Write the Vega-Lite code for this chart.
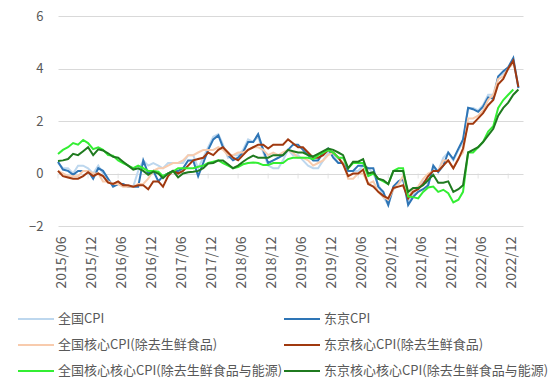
{
  "$schema": "https://vega.github.io/schema/vega-lite/v6.json",
  "width": 465,
  "height": 210,
  "autosize": {"type": "none"},
  "padding": {"left": 58, "top": 16, "right": 27, "bottom": 166},
  "background": "white",
  "config": {
    "view": {"stroke": null},
    "font": "Noto Sans CJK SC"
  },
  "datasets": {
    "series": [
      {"k": "a", "name": "全国CPI"},
      {"k": "b", "name": "东京CPI"},
      {"k": "c", "name": "全国核心CPI(除去生鲜食品)"},
      {"k": "d", "name": "东京核心CPI(除去生鲜食品)"},
      {"k": "e", "name": "全国核心核心CPI(除去生鲜食品与能源)"},
      {"k": "f", "name": "东京核心核心CPI(除去生鲜食品与能源)"}
    ],
    "cpi": [
      {"t": "2015-06", "a": 0.4, "b": 0.45, "c": 0.1, "d": 0.1, "e": 0.74, "f": 0.48},
      {"t": "2015-07", "a": 0.2, "b": 0.15, "c": 0.0, "d": -0.1, "e": 0.9, "f": 0.5},
      {"t": "2015-08", "a": 0.2, "b": 0.1, "c": -0.1, "d": -0.15, "e": 1.0, "f": 0.55},
      {"t": "2015-09", "a": 0.0, "b": -0.05, "c": -0.1, "d": -0.2, "e": 1.16, "f": 0.75},
      {"t": "2015-10", "a": 0.3, "b": 0.1, "c": -0.1, "d": -0.2, "e": 1.1, "f": 0.7},
      {"t": "2015-11", "a": 0.3, "b": 0.1, "c": 0.1, "d": -0.1, "e": 1.28, "f": 0.85},
      {"t": "2015-12", "a": 0.2, "b": 0.1, "c": 0.1, "d": 0.05, "e": 1.16, "f": 1.0},
      {"t": "2016-01", "a": 0.0, "b": -0.2, "c": 0.0, "d": -0.1, "e": 0.93, "f": 0.7},
      {"t": "2016-02", "a": 0.3, "b": 0.2, "c": 0.0, "d": 0.0, "e": 1.0, "f": 0.92},
      {"t": "2016-03", "a": 0.0, "b": 0.1, "c": -0.3, "d": -0.1, "e": 0.9, "f": 0.88},
      {"t": "2016-04", "a": -0.3, "b": -0.2, "c": -0.3, "d": -0.35, "e": 0.7, "f": 0.77},
      {"t": "2016-05", "a": -0.4, "b": -0.5, "c": -0.4, "d": -0.4, "e": 0.68, "f": 0.64},
      {"t": "2016-06", "a": -0.4, "b": -0.4, "c": -0.4, "d": -0.3, "e": 0.5, "f": 0.6},
      {"t": "2016-07", "a": -0.4, "b": -0.4, "c": -0.5, "d": -0.45, "e": 0.4, "f": 0.45},
      {"t": "2016-08", "a": -0.5, "b": -0.5, "c": -0.5, "d": -0.45, "e": 0.3, "f": 0.3},
      {"t": "2016-09", "a": -0.5, "b": -0.5, "c": -0.5, "d": -0.5, "e": 0.2, "f": 0.15},
      {"t": "2016-10", "a": 0.1, "b": -0.5, "c": -0.4, "d": -0.45, "e": 0.3, "f": 0.2},
      {"t": "2016-11", "a": 0.5, "b": 0.5, "c": -0.4, "d": -0.45, "e": 0.2, "f": 0.1},
      {"t": "2016-12", "a": 0.3, "b": 0.0, "c": -0.2, "d": -0.6, "e": 0.1, "f": -0.05},
      {"t": "2017-01", "a": 0.4, "b": 0.1, "c": 0.1, "d": -0.3, "e": 0.1, "f": 0.07},
      {"t": "2017-02", "a": 0.3, "b": -0.3, "c": 0.2, "d": -0.3, "e": 0.07, "f": 0.0},
      {"t": "2017-03", "a": 0.2, "b": -0.1, "c": 0.2, "d": -0.5, "e": -0.1, "f": -0.18},
      {"t": "2017-04", "a": 0.4, "b": 0.0, "c": 0.3, "d": -0.1, "e": 0.0, "f": 0.0},
      {"t": "2017-05", "a": 0.4, "b": 0.1, "c": 0.4, "d": 0.1, "e": 0.07, "f": 0.1},
      {"t": "2017-06", "a": 0.4, "b": 0.1, "c": 0.4, "d": 0.0, "e": 0.2, "f": -0.15},
      {"t": "2017-07", "a": 0.4, "b": 0.2, "c": 0.5, "d": 0.1, "e": 0.2, "f": 0.0},
      {"t": "2017-08", "a": 0.7, "b": 0.5, "c": 0.7, "d": 0.3, "e": 0.2, "f": 0.05},
      {"t": "2017-09", "a": 0.7, "b": 0.5, "c": 0.7, "d": 0.5, "e": 0.2, "f": 0.07},
      {"t": "2017-10", "a": 0.2, "b": -0.1, "c": 0.8, "d": 0.55, "e": 0.26, "f": 0.1},
      {"t": "2017-11", "a": 0.6, "b": 0.4, "c": 0.9, "d": 0.6, "e": 0.3, "f": 0.2},
      {"t": "2017-12", "a": 1.0, "b": 0.9, "c": 0.9, "d": 0.8, "e": 0.4, "f": 0.38},
      {"t": "2018-01", "a": 1.4, "b": 1.3, "c": 0.9, "d": 0.7, "e": 0.45, "f": 0.4},
      {"t": "2018-02", "a": 1.5, "b": 1.45, "c": 1.0, "d": 0.9, "e": 0.5, "f": 0.5},
      {"t": "2018-03", "a": 1.1, "b": 1.0, "c": 0.9, "d": 1.0, "e": 0.4, "f": 0.5},
      {"t": "2018-04", "a": 0.6, "b": 0.7, "c": 0.7, "d": 0.8, "e": 0.3, "f": 0.35},
      {"t": "2018-05", "a": 0.7, "b": 0.5, "c": 0.7, "d": 0.6, "e": 0.2, "f": 0.2},
      {"t": "2018-06", "a": 0.7, "b": 0.6, "c": 0.8, "d": 0.5, "e": 0.25, "f": 0.3},
      {"t": "2018-07", "a": 0.9, "b": 0.8, "c": 0.8, "d": 0.7, "e": 0.35, "f": 0.45},
      {"t": "2018-08", "a": 1.3, "b": 1.2, "c": 0.9, "d": 0.9, "e": 0.4, "f": 0.58},
      {"t": "2018-09", "a": 1.2, "b": 1.2, "c": 1.0, "d": 1.0, "e": 0.42, "f": 0.68},
      {"t": "2018-10", "a": 1.4, "b": 1.5, "c": 1.0, "d": 1.1, "e": 0.4, "f": 0.6},
      {"t": "2018-11", "a": 0.8, "b": 0.9, "c": 0.9, "d": 1.1, "e": 0.32, "f": 0.6},
      {"t": "2018-12", "a": 0.3, "b": 0.4, "c": 0.7, "d": 0.95, "e": 0.32, "f": 0.6},
      {"t": "2019-01", "a": 0.2, "b": 0.5, "c": 0.8, "d": 1.1, "e": 0.4, "f": 0.7},
      {"t": "2019-02", "a": 0.2, "b": 0.6, "c": 0.7, "d": 1.1, "e": 0.4, "f": 0.7},
      {"t": "2019-03", "a": 0.5, "b": 0.7, "c": 0.8, "d": 1.1, "e": 0.4, "f": 0.7},
      {"t": "2019-04", "a": 0.9, "b": 0.9, "c": 0.9, "d": 1.3, "e": 0.55, "f": 0.9},
      {"t": "2019-05", "a": 0.7, "b": 1.1, "c": 0.8, "d": 1.15, "e": 0.6, "f": 0.85},
      {"t": "2019-06", "a": 0.7, "b": 1.1, "c": 0.6, "d": 1.0, "e": 0.6, "f": 0.8},
      {"t": "2019-07", "a": 0.5, "b": 0.9, "c": 0.6, "d": 1.0, "e": 0.6, "f": 0.8},
      {"t": "2019-08", "a": 0.3, "b": 0.7, "c": 0.5, "d": 0.8, "e": 0.6, "f": 0.7},
      {"t": "2019-09", "a": 0.2, "b": 0.5, "c": 0.3, "d": 0.6, "e": 0.55, "f": 0.65},
      {"t": "2019-10", "a": 0.2, "b": 0.5, "c": 0.4, "d": 0.6, "e": 0.7, "f": 0.75},
      {"t": "2019-11", "a": 0.5, "b": 0.8, "c": 0.5, "d": 0.7, "e": 0.8, "f": 0.85},
      {"t": "2019-12", "a": 0.8, "b": 0.95, "c": 0.7, "d": 0.9, "e": 0.9, "f": 0.95},
      {"t": "2020-01", "a": 0.7, "b": 0.6, "c": 0.8, "d": 0.8, "e": 0.8, "f": 0.9},
      {"t": "2020-02", "a": 0.4, "b": 0.4, "c": 0.6, "d": 0.6, "e": 0.6, "f": 0.8},
      {"t": "2020-03", "a": 0.4, "b": 0.4, "c": 0.4, "d": 0.35, "e": 0.6, "f": 0.7},
      {"t": "2020-04", "a": 0.1, "b": 0.1, "c": -0.2, "d": -0.1, "e": 0.2, "f": 0.2},
      {"t": "2020-05", "a": 0.1, "b": 0.1, "c": -0.2, "d": 0.0, "e": 0.4, "f": 0.45},
      {"t": "2020-06", "a": 0.1, "b": 0.3, "c": 0.0, "d": 0.0, "e": 0.4, "f": 0.45},
      {"t": "2020-07", "a": 0.3, "b": 0.3, "c": 0.0, "d": 0.15, "e": 0.4, "f": 0.55},
      {"t": "2020-08", "a": 0.2, "b": 0.2, "c": -0.4, "d": -0.4, "e": -0.1, "f": 0.0},
      {"t": "2020-09", "a": 0.0, "b": 0.2, "c": -0.3, "d": -0.5, "e": 0.0, "f": 0.05},
      {"t": "2020-10", "a": -0.4, "b": -0.5, "c": -0.7, "d": -0.7, "e": -0.2, "f": -0.2},
      {"t": "2020-11", "a": -0.9, "b": -0.7, "c": -0.9, "d": -0.85, "e": -0.3, "f": -0.25},
      {"t": "2020-12", "a": -1.2, "b": -1.2, "c": -1.0, "d": -0.95, "e": -0.4, "f": -0.4},
      {"t": "2021-01", "a": -0.6, "b": -0.5, "c": -0.6, "d": -0.55, "e": 0.1, "f": 0.1},
      {"t": "2021-02", "a": -0.4, "b": -0.3, "c": -0.4, "d": -0.5, "e": 0.2, "f": 0.1},
      {"t": "2021-03", "a": -0.2, "b": -0.2, "c": -0.1, "d": -0.45, "e": 0.2, "f": 0.1},
      {"t": "2021-04", "a": -1.1, "b": -1.2, "c": -0.9, "d": -0.95, "e": -0.88, "f": -0.7},
      {"t": "2021-05", "a": -0.8, "b": -0.9, "c": -0.6, "d": -0.7, "e": -0.9, "f": -0.55},
      {"t": "2021-06", "a": -0.5, "b": -0.7, "c": -0.5, "d": -0.6, "e": -0.95, "f": -0.55},
      {"t": "2021-07", "a": -0.3, "b": -0.6, "c": -0.2, "d": -0.4, "e": -0.7, "f": -0.45},
      {"t": "2021-08", "a": -0.4, "b": -0.45, "c": 0.0, "d": -0.1, "e": -0.53, "f": -0.25},
      {"t": "2021-09", "a": 0.2, "b": 0.3, "c": 0.1, "d": 0.1, "e": -0.5, "f": -0.05},
      {"t": "2021-10", "a": 0.1, "b": 0.05, "c": 0.1, "d": 0.1, "e": -0.7, "f": -0.35},
      {"t": "2021-11", "a": 0.6, "b": 0.3, "c": 0.5, "d": 0.3, "e": -0.62, "f": -0.35},
      {"t": "2021-12", "a": 0.8, "b": 0.8, "c": 0.5, "d": 0.5, "e": -0.75, "f": -0.3},
      {"t": "2022-01", "a": 0.5, "b": 0.55, "c": 0.2, "d": 0.2, "e": -1.1, "f": -0.7},
      {"t": "2022-02", "a": 0.9, "b": 0.95, "c": 0.6, "d": 0.55, "e": -1.0, "f": -0.6},
      {"t": "2022-03", "a": 1.2, "b": 1.3, "c": 0.8, "d": 0.95, "e": -0.7, "f": -0.45},
      {"t": "2022-04", "a": 2.5, "b": 2.5, "c": 2.1, "d": 1.9, "e": 0.8, "f": 0.8},
      {"t": "2022-05", "a": 2.5, "b": 2.45, "c": 2.1, "d": 1.9, "e": 0.8, "f": 0.9},
      {"t": "2022-06", "a": 2.4, "b": 2.35, "c": 2.2, "d": 2.1, "e": 1.0, "f": 1.0},
      {"t": "2022-07", "a": 2.6, "b": 2.55, "c": 2.4, "d": 2.3, "e": 1.2, "f": 1.2},
      {"t": "2022-08", "a": 3.0, "b": 2.9, "c": 2.8, "d": 2.6, "e": 1.6, "f": 1.45},
      {"t": "2022-09", "a": 3.0, "b": 2.85, "c": 3.0, "d": 2.8, "e": 1.8, "f": 1.7},
      {"t": "2022-10", "a": 3.7, "b": 3.7, "c": 3.6, "d": 3.4, "e": 2.5, "f": 2.2},
      {"t": "2022-11", "a": 3.8, "b": 3.9, "c": 3.7, "d": 3.6, "e": 2.8, "f": 2.5},
      {"t": "2022-12", "a": 4.0, "b": 4.05, "c": 4.0, "d": 4.0, "e": 3.0, "f": 2.7},
      {"t": "2023-01", "a": 4.3, "b": 4.4, "c": 4.2, "d": 4.3, "e": 3.2, "f": 3.0},
      {"t": "2023-02", "a": null, "b": 3.25, "c": null, "d": 3.3, "e": null, "f": 3.2}
    ]
  },
  "data": {"name": "cpi", "format": {"parse": {"t": "date:'%Y-%m'"}}},
  "encoding": {
    "x": {
      "field": "t",
      "type": "temporal",
      "scale": {"domain": [{"year": 2015, "month": 6, "date": 1}, {"year": 2023, "month": 3, "date": 1}]},
      "axis": {
        "title": null,
        "values": [
          {"year": 2015, "month": 6, "date": 1}, {"year": 2015, "month": 12, "date": 1},
          {"year": 2016, "month": 6, "date": 1}, {"year": 2016, "month": 12, "date": 1},
          {"year": 2017, "month": 6, "date": 1}, {"year": 2017, "month": 12, "date": 1},
          {"year": 2018, "month": 6, "date": 1}, {"year": 2018, "month": 12, "date": 1},
          {"year": 2019, "month": 6, "date": 1}, {"year": 2019, "month": 12, "date": 1},
          {"year": 2020, "month": 6, "date": 1}, {"year": 2020, "month": 12, "date": 1},
          {"year": 2021, "month": 6, "date": 1}, {"year": 2021, "month": 12, "date": 1},
          {"year": 2022, "month": 6, "date": 1}, {"year": 2022, "month": 12, "date": 1}
        ],
        "format": "%Y/%m",
        "labelAngle": 270,
        "labelFontSize": 14,
        "labelColor": "#595959",
        "labelPadding": 10,
        "labelOffset": 3,
        "labelFlush": false,
        "labelOverlap": false,
        "labelSeparation": 0,
        "domain": false,
        "ticks": false,
        "grid": false
      }
    }
  },
  "layer": [
    {
      "transform": [{"filter": "month(datum.t) == 5 || month(datum.t) == 11"}],
      "mark": {"type": "tick", "orient": "vertical", "size": 5, "thickness": 1, "color": "#d9d9d9", "yOffset": 2.5},
      "encoding": {
        "y": {
          "datum": 0,
          "type": "quantitative",
          "scale": {"domain": [-2, 6], "nice": false, "zero": false},
          "axis": {
            "title": null,
            "values": [-2, 0, 2, 4, 6],
            "labelFontSize": 13,
            "labelColor": "#595959",
            "labelPadding": 15,
            "domain": false,
            "ticks": false,
            "grid": true,
            "gridColor": "#d9d9d9",
            "gridWidth": 1
          }
        }
      }
    },
    {
      "transform": [
        {"fold": ["a", "b", "c", "d", "e", "f"], "as": ["k", "v"]},
        {"filter": "isValid(datum.v)"},
        {"lookup": "k", "from": {"data": {"name": "series"}, "key": "k", "fields": ["name"]}}
      ],
      "mark": {"type": "line", "strokeWidth": 2, "interpolate": "linear"},
      "encoding": {
        "y": {
          "field": "v",
          "type": "quantitative",
          "scale": {"domain": [-2, 6], "nice": false, "zero": false},
          "axis": {
            "title": null,
            "values": [-2, 0, 2, 4, 6],
            "labelFontSize": 13,
            "labelColor": "#595959",
            "labelPadding": 15,
            "domain": false,
            "ticks": false,
            "grid": true,
            "gridColor": "#d9d9d9",
            "gridWidth": 1
          }
        },
        "color": {
          "field": "name",
          "type": "nominal",
          "sort": null,
          "scale": {
            "domain": ["全国CPI", "东京CPI", "全国核心CPI(除去生鲜食品)", "东京核心CPI(除去生鲜食品)", "全国核心核心CPI(除去生鲜食品与能源)", "东京核心核心CPI(除去生鲜食品与能源)"],
            "range": ["#bdd7ee", "#2e75b6", "#f8cbad", "#a0390f", "#33ee33", "#1f7a1f"]
          },
          "legend": {
            "title": null,
            "orient": "none",
            "direction": "horizontal",
            "legendX": -41,
            "legendY": 284,
            "columns": 2,
            "symbolType": "stroke",
            "symbolSize": 1296,
            "symbolStrokeWidth": 2,
            "labelFontSize": 13,
            "labelColor": "#595959",
            "labelOffset": 3,
            "labelLimit": 400,
            "rowPadding": -1,
            "columnPadding": -7,
            "padding": 0
          }
        }
      }
    }
  ]
}
